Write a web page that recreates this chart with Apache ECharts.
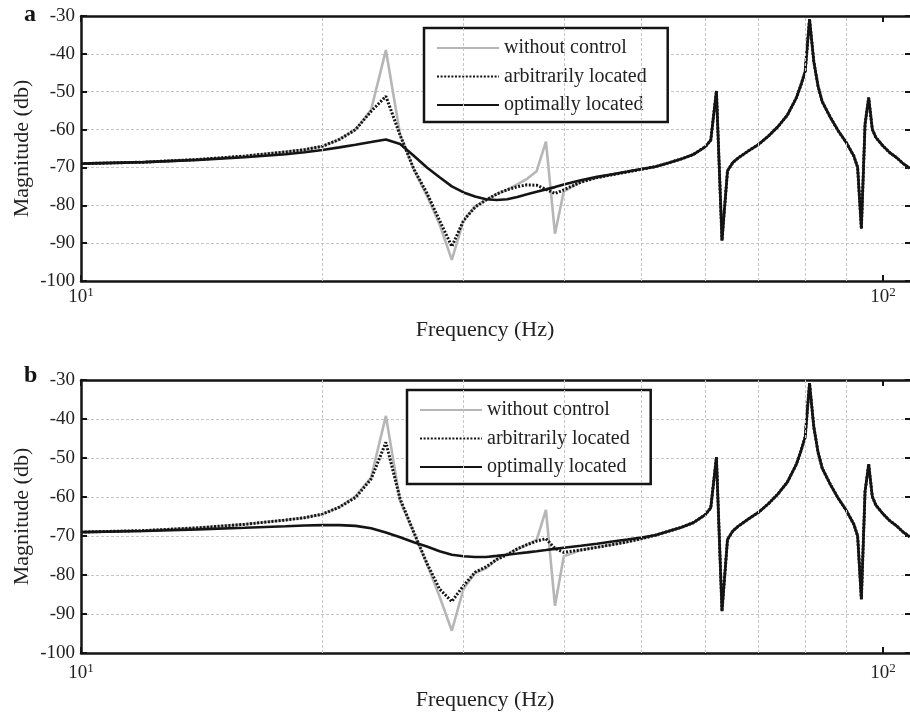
<!DOCTYPE html>
<html>
<head>
<meta charset="utf-8">
<script src="https://cdn.jsdelivr.net/npm/echarts@6.0.0/dist/echarts.min.js"></script>
<style>
html, body { margin: 0; padding: 0; background: #fff; }
#main { width: 910px; height: 728px; }
</style>
</head>
<body>
<div id="main"></div>
<script>
// frequencies (Hz) where the curves differ between the cases
var lowFreq = [10, 12, 14, 16, 18, 19, 20, 21, 22, 23, 24, 25, 26, 27, 28, 29, 30, 31,
    32, 33, 34, 35, 36, 37, 38, 39, 40, 42, 44, 46, 48, 50];
// frequencies where all three cases coincide
var highFreq = [52, 54, 56, 58, 60, 61, 62, 63, 64, 65, 66, 68, 70, 72, 74, 76, 78, 79,
    80, 81, 82, 83, 84, 86, 88, 90, 92, 93, 94, 95, 96, 97, 98, 100, 102, 104, 106, 108];
var highDb = [-69.8, -68.8, -67.8, -66.6, -64.6, -62.8, -49.8, -89.3, -70.9, -68.7, -67.5,
    -65.6, -63.9, -61.7, -59.2, -56.2, -51.6, -48.3, -44.6, -30.8, -42.0, -48.5, -52.6,
    -56.8, -60.4, -63.4, -67.0, -70.0, -86.2, -58.6, -51.6, -59.9, -62.1, -64.3, -66.1,
    -67.4, -69.0, -70.2];

// panel a
var aNone = [-69.0, -68.6, -67.9, -67.0, -65.9, -65.3, -64.4, -62.6, -60.0, -54.8, -39.0,
    -61.3, -70.5, -77.5, -85.0, -94.4, -84.0, -80.3, -78.6, -77.0, -75.9, -74.5, -73.0,
    -71.0, -63.2, -87.5, -76.3, -73.8, -72.7, -71.9, -71.2, -70.5];
var aArb = [-69.0, -68.6, -67.9, -67.0, -65.9, -65.3, -64.4, -62.6, -60.0, -55.2, -51.2,
    -61.5, -70.4, -76.8, -84.0, -90.9, -84.0, -80.5, -78.6, -77.0, -75.9, -75.1, -74.6,
    -74.7, -75.8, -76.9, -75.9, -73.9, -72.7, -71.9, -71.2, -70.5];
var aOpt = [-69.0, -68.6, -68.0, -67.3, -66.5, -66.0, -65.4, -64.7, -64.0, -63.3, -62.6,
    -63.8, -66.9, -70.0, -72.6, -75.0, -76.6, -77.7, -78.4, -78.6, -78.4, -77.8, -77.1,
    -76.4, -75.8, -75.2, -74.5, -73.4, -72.5, -71.8, -71.1, -70.4];

// panel b
var bNone = [-69.0, -68.6, -67.9, -67.0, -65.9, -65.3, -64.4, -62.6, -59.8, -55.0, -39.2,
    -61.0, -69.2, -77.2, -85.5, -94.3, -83.5, -79.5, -78.3, -76.0, -74.6, -73.4, -72.2,
    -71.0, -63.3, -87.9, -75.2, -73.6, -72.9, -72.2, -71.5, -70.7];
var bArb = [-69.0, -68.6, -67.9, -67.0, -65.9, -65.3, -64.4, -62.6, -60.1, -55.4, -46.0,
    -60.5, -69.0, -77.0, -83.6, -86.8, -82.7, -79.3, -77.9, -76.0, -74.8, -73.3, -72.2,
    -71.3, -70.7, -73.2, -74.2, -73.6, -72.9, -72.2, -71.5, -70.7];
var bOpt = [-69.0, -68.7, -68.3, -67.9, -67.5, -67.3, -67.2, -67.2, -67.4, -68.0, -69.1,
    -70.3, -71.6, -72.7, -73.9, -74.8, -75.2, -75.4, -75.4, -75.1, -74.8, -74.5, -74.2,
    -73.9, -73.6, -73.3, -73.0, -72.5, -72.0, -71.4, -70.9, -70.4];

var gridFreq = [20, 30, 40, 50, 60, 70, 80, 90];
var names = ['without control', 'arbitrarily located', 'optimally located'];

var font = '"Liberation Serif", "Times New Roman", serif';
var ink = '#141414';
var gridLine = { color: '#c6c6c6', width: 1, type: [3, 2] };

function pairs(low) {
    var freq = lowFreq.concat(highFreq);
    var db = low.concat(highDb);
    return freq.map(function (f, i) { return [f, db[i]]; });
}

function xAxisOf(grid, pos, margin, gap) {
    var bottom = pos === 'bottom';
    return {
        type: 'log',
        logBase: 10,
        min: 10,
        max: 108.4,
        gridIndex: grid,
        position: pos,
        axisLine: { show: true, onZero: false, lineStyle: { color: ink, width: 2.5 } },
        axisTick: { show: true, inside: true, length: 6, lineStyle: { color: ink, width: 2 } },
        splitLine: { show: false },
        axisLabel: {
            show: bottom,
            margin: margin,
            formatter: function (v) {
                var e = Math.round(Math.log10(v));
                if (Math.abs(v - Math.pow(10, e)) > 1e-6) return '';
                return '{b|10}{s|' + e + '}';
            },
            rich: {
                b: { fontFamily: font, fontSize: 19, color: '#222', lineHeight: 22 },
                s: { fontFamily: font, fontSize: 13, color: '#222', lineHeight: 12, verticalAlign: 'top' }
            }
        },
        name: bottom ? 'Frequency (Hz)' : '',
        nameLocation: 'middle',
        nameGap: gap,
        nameTextStyle: { fontFamily: font, fontSize: 22, color: '#222', padding: [0, 22, 0, 0] }
    };
}

function yAxisOf(grid, pos) {
    var left = pos === 'left';
    return {
        type: 'value',
        min: -100,
        max: -30,
        interval: 10,
        gridIndex: grid,
        position: pos,
        axisLine: { show: true, lineStyle: { color: ink, width: 2.5 } },
        axisTick: { show: true, inside: true, length: 6, lineStyle: { color: ink, width: 2 } },
        axisLabel: { show: left, margin: 6, fontFamily: font, fontSize: 19, color: '#222' },
        splitLine: { show: left, lineStyle: gridLine },
        name: left ? 'Magnitude (db)' : '',
        nameLocation: 'middle',
        nameGap: 48,
        nameMoveOverlap: false,
        nameTextStyle: { fontFamily: font, fontSize: 22, color: '#222' }
    };
}

function seriesOf(axis, none, arb, opt) {
    var xi = axis * 2, yi = axis * 2;
    return [
        {
            name: names[0], type: 'line', xAxisIndex: xi, yAxisIndex: yi,
            data: pairs(none), symbol: 'none',
            lineStyle: { color: '#b6b6b6', width: 2.6 }, itemStyle: { color: '#b6b6b6' },
            markLine: {
                silent: true, symbol: 'none', label: { show: false }, animation: false,
                lineStyle: gridLine,
                data: gridFreq.map(function (f) { return { xAxis: f }; })
            }
        },
        {
            name: names[1], type: 'line', xAxisIndex: xi, yAxisIndex: yi,
            data: pairs(arb), symbol: 'none',
            lineStyle: { color: ink, width: 3, type: [2, 1.6] }, itemStyle: { color: ink }
        },
        {
            name: names[2], type: 'line', xAxisIndex: xi, yAxisIndex: yi,
            data: pairs(opt), symbol: 'none',
            lineStyle: { color: ink, width: 2.6 }, itemStyle: { color: ink }
        }
    ];
}

function legendOf(left, top) {
    return {
        orient: 'vertical', left: left, top: top,
        itemWidth: 62, itemHeight: 14, itemGap: 8.5,
        padding: [10, 21, 7, 12],
        borderColor: ink, borderWidth: 2.5, borderRadius: 0,
        backgroundColor: '#fff',
        selectedMode: false,
        itemStyle: { opacity: 0 },
        textStyle: { fontFamily: font, fontSize: 20, color: '#222' },
        data: names
    };
}

var chart = echarts.init(document.getElementById('main'));
chart.setOption({
    animation: false,
    backgroundColor: '#fff',
    grid: [
        { left: 81, width: 830, top: 16, height: 265, outerBoundsMode: 'none', containLabel: false },
        { left: 81, width: 830, top: 380, height: 273, outerBoundsMode: 'none', containLabel: false }
    ],
    xAxis: [
        xAxisOf(0, 'bottom', 5, 38),
        xAxisOf(0, 'top', 0, 0),
        xAxisOf(1, 'bottom', 9, 36),
        xAxisOf(1, 'top', 0, 0)
    ],
    yAxis: [
        yAxisOf(0, 'left'),
        yAxisOf(0, 'right'),
        yAxisOf(1, 'left'),
        yAxisOf(1, 'right')
    ],
    legend: [legendOf(424, 28), legendOf(407, 390)],
    series: seriesOf(0, aNone, aArb, aOpt).concat(seriesOf(1, bNone, bArb, bOpt)),
    graphic: [
        { type: 'text', left: 24, top: 3, style: { text: 'a', font: 'bold 24px ' + font, fill: ink } },
        { type: 'text', left: 24, top: 364, style: { text: 'b', font: 'bold 24px ' + font, fill: ink } }
    ]
});
</script>
</body>
</html>
